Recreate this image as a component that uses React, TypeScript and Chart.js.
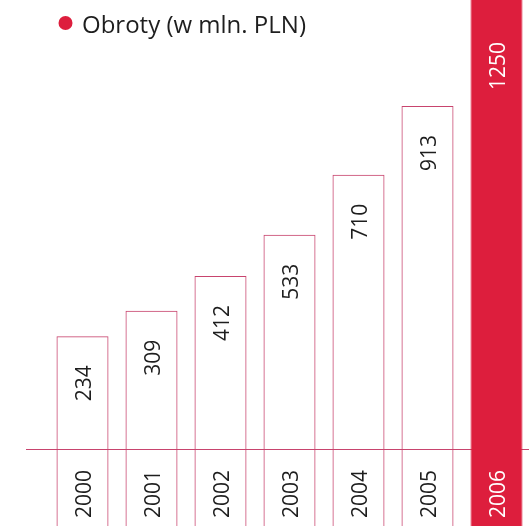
import React, { useEffect, useRef } from "react";
import { Chart, registerables } from "chart.js";

Chart.register(...registerables);

const categories = ["2000", "2001", "2002", "2003", "2004", "2005", "2006"];
const revenue = [234, 309, 412, 533, 710, 913, 1250];
const seriesLabel = "Obroty (w mln. PLN)";
const highlightYear = "2006";

const RED = "#DD1E3D";
const PINK = "#C8446E";
const TEXT = "#1E1E1E";
const FONT = '"Open Sans", "Noto Sans", sans-serif';

const overlayPlugin = {
  id: "overlay",
  beforeDatasetsDraw(chart: any) {
    const { ctx, chartArea, width } = chart;
    const y = chartArea.bottom - 77;
    ctx.save();
    ctx.strokeStyle = PINK;
    ctx.lineWidth = 1;
    ctx.beginPath();
    ctx.moveTo(26, y + 0.5);
    ctx.lineTo(width, y + 0.5);
    ctx.stroke();
    ctx.restore();
  },
  afterDatasetsDraw(chart: any) {
    const { ctx, chartArea } = chart;
    const meta = chart.getDatasetMeta(0);
    const ds = chart.data.datasets[0];
    ctx.save();
    ctx.font = `21px ${FONT}`;
    meta.data.forEach((el: any, i: number) => {
      const hl = chart.data.labels[i] === highlightYear;
      ctx.fillStyle = hl ? "#FFFFFF" : TEXT;
      // value label
      const top = Math.max(el.y, chartArea.top + 13);
      ctx.save();
      ctx.translate(el.x + 8.5, top + 29);
      ctx.rotate(-Math.PI / 2);
      ctx.textAlign = "right";
      ctx.textBaseline = "alphabetic";
      ctx.fillText(String(ds.data[i]), 0, 0);
      ctx.restore();
      // year label
      ctx.save();
      ctx.translate(el.x + 8.5, chartArea.bottom - 32);
      ctx.rotate(-Math.PI / 2);
      ctx.textAlign = "center";
      ctx.textBaseline = "alphabetic";
      ctx.fillText(String(chart.data.labels[i]), 0, 0);
      ctx.restore();
    });
    // legend
    ctx.fillStyle = RED;
    ctx.beginPath();
    ctx.arc(65.5, 23, 7, 0, Math.PI * 2);
    ctx.fill();
    ctx.fillStyle = TEXT;
    ctx.font = `24px ${FONT}`;
    ctx.textAlign = "left";
    ctx.textBaseline = "alphabetic";
    ctx.fillText(ds.label, 82, 33);
    ctx.restore();
  },
};

export default function App() {
  const ref = useRef<HTMLCanvasElement | null>(null);
  useEffect(() => {
    document.body.style.margin = "0";
    document.body.style.overflow = "hidden";
    document.documentElement.style.overflow = "hidden";
    const chart = new Chart(ref.current as HTMLCanvasElement, {
      type: "bar",
      data: {
        labels: categories,
        datasets: [
          {
            label: seriesLabel,
            data: revenue,
            base: -400,
            backgroundColor: categories.map((c) => (c === highlightYear ? RED : "rgba(0,0,0,0)")),
            borderColor: categories.map((c) => (c === highlightYear ? RED : PINK)),
            borderWidth: 1,
            categoryPercentage: 1,
            barPercentage: 0.754,
          },
        ],
      },
      options: {
        animation: false,
        responsive: true,
        maintainAspectRatio: false,
        layout: { padding: { left: 48, right: 1, top: 0, bottom: 0 } },
        plugins: { legend: { display: false }, tooltip: { enabled: false } },
        scales: {
          x: { display: false },
          y: { display: false, min: -325, max: 1225 },
        },
      },
      plugins: [overlayPlugin],
    });
    return () => chart.destroy();
  }, []);
  return (
    <div style={{ position: "fixed", left: 0, top: 0, width: 532, height: 526, background: "#fff" }}>
      <canvas ref={ref} />
    </div>
  );
}
